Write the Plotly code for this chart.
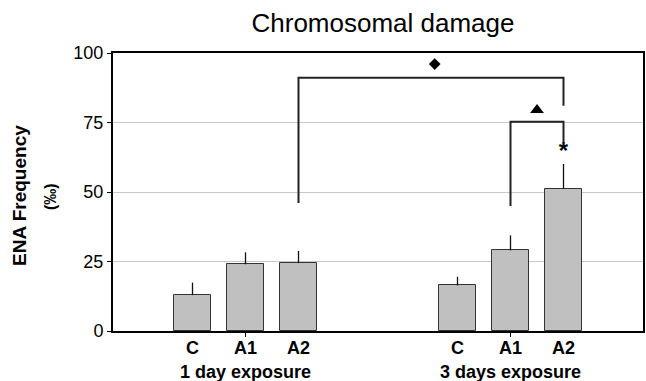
import plotly.graph_objects as go

# ---- data ----
groups = ["1 day exposure", "3 days exposure"]
categories = ["C", "A1", "A2", "C", "A1", "A2"]
slot_index = [1, 2, 3, 6, 7, 8]          # category slots on the x axis (10 slots)
means = [12.9, 24.0, 24.4, 16.4, 29.0, 51.1]
err_top = [17.4, 28.3, 28.8, 19.5, 34.4, 60.1]
y_ticks = [0, 25, 50, 75, 100]

# significance brackets
bracket_left = [2, 4]
bracket_right = [5, 5]
bracket_height = [91.1, 75.3]
bracket_left_foot = [46, 45]
bracket_right_foot = [81, 68]
bracket_symbol = ["diamond", "triangle-up"]
bracket_symbol_y = [96.0, 79.5]
star_bar = 5
star_y = 64.0

FONT = "Liberation Sans, Arial, sans-serif"
W, H = 646, 381
L, R, T, B = 113, 1, 53, 50

fig = go.Figure()

fig.add_trace(go.Bar(
    x=slot_index, y=means, width=0.71,
    marker=dict(color="#c0c0c0", line=dict(color="#333333", width=1)),
    error_y=dict(type="data", symmetric=False,
                 array=[e - m for e, m in zip(err_top, means)],
                 arrayminus=[0] * len(means),
                 width=0, thickness=1.3, color="#111111"),
    showlegend=False, hoverinfo="skip",
))

# brackets
for i in range(len(bracket_height)):
    xl = slot_index[bracket_left[i]]
    xr = slot_index[bracket_right[i]]
    fig.add_trace(go.Scatter(
        x=[xl, xl, xr, xr],
        y=[bracket_left_foot[i], bracket_height[i], bracket_height[i], bracket_right_foot[i]],
        mode="lines", line=dict(color="#222222", width=2),
        showlegend=False, hoverinfo="skip",
    ))
    fig.add_trace(go.Scatter(
        x=[(xl + xr) / 2 + (0.07 if i == 0 else 0)], y=[bracket_symbol_y[i]],
        mode="markers",
        marker=dict(symbol=bracket_symbol[i], size=9 if i == 0 else 12, color="#000000"),
        showlegend=False, hoverinfo="skip",
    ))

fig.add_trace(go.Scatter(
    x=[slot_index[star_bar]], y=[star_y], mode="text", text=["<b>*</b>"],
    textfont=dict(family=FONT, size=24, color="#000000"),
    textposition="middle center",
    showlegend=False, hoverinfo="skip",
))

# category labels
for xi, lab in zip(slot_index, categories):
    fig.add_annotation(x=xi, xref="x", y=0, yref="paper", yanchor="middle",
                       yshift=-17, text=f"<b>{lab}</b>", showarrow=False,
                       font=dict(family=FONT, size=18, color="#000000"))
for gi, g in enumerate(groups):
    fig.add_annotation(x=slot_index[gi * 3 + 1], xref="x", y=0, yref="paper",
                       yanchor="middle", yshift=-41, text=f"<b>{g}</b>", showarrow=False,
                       font=dict(family=FONT, size=18, color="#000000"))

# y-axis title (two lines)
fig.add_annotation(x=0, xref="paper", xshift=19 - L, xanchor="center",
                   y=(H - B - 196) / (H - T - B), yref="paper", yanchor="middle",
                   text="<b>ENA Frequency</b>", textangle=-90, showarrow=False,
                   font=dict(family=FONT, size=19, color="#000000"))
fig.add_annotation(x=0, xref="paper", xshift=50 - L, xanchor="center",
                   y=(H - B - 197) / (H - T - B), yref="paper", yanchor="middle",
                   text="<b>(‰)</b>", textangle=-90, showarrow=False,
                   font=dict(family=FONT, size=16, color="#000000"))

fig.update_layout(
    width=W, height=H,
    margin=dict(l=L, r=R, t=T, b=B, pad=0),
    paper_bgcolor="white", plot_bgcolor="white",
    title=dict(text="Chromosomal damage", x=383 / W, xanchor="center",
               y=1 - 23 / H, yanchor="middle", yref="container", xref="container",
               font=dict(family=FONT, size=26, color="#000000")),
    xaxis=dict(range=[-0.5, 9.5], showgrid=False, zeroline=False,
               showline=True, linecolor="#000000", linewidth=2, mirror=True,
               tickvals=[slot_index[1], slot_index[4]], ticktext=["", ""],
               ticks="outside", ticklen=4, tickcolor="#000000", tickwidth=1),
    yaxis=dict(range=[0, 100], tickvals=y_ticks, showgrid=True,
               gridcolor="#c8c8c8", gridwidth=1, zeroline=False,
               showline=True, linecolor="#000000", linewidth=2, mirror=True,
               ticks="outside", ticklen=4, tickcolor="#000000", tickwidth=1,
               tickfont=dict(family=FONT, size=18, color="#000000")),
    bargap=0,
)

fig.write_html("out.html", config={"displayModeBar": False},
               post_script="document.body.style.margin='0';document.body.style.padding='0';")
